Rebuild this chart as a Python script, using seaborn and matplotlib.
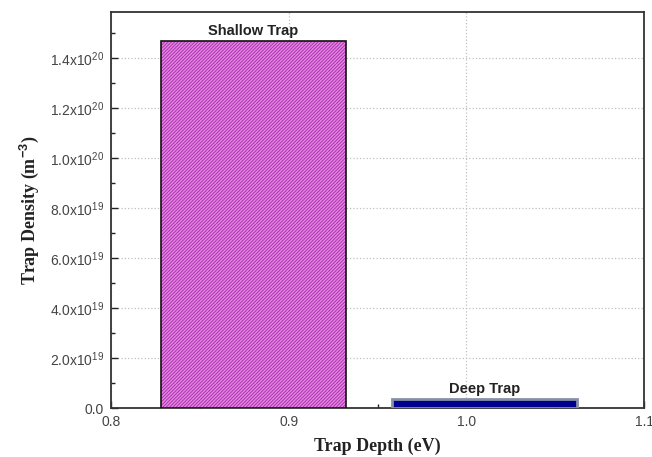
import matplotlib
matplotlib.use("Agg")
import matplotlib.pyplot as plt
import seaborn as sns
import pandas as pd
from matplotlib.patches import Rectangle
from matplotlib.ticker import MultipleLocator, FixedLocator

# Data
trap_names = ["Shallow Trap", "Deep Trap"]
trap_depth = [0.88, 1.01]          # eV (bar centres)
trap_density = [1.47e20, 3.5e18]   # m^-3
ytick_vals = [0.0, 2e19, 4e19, 6e19, 8e19, 1e20, 1.2e20, 1.4e20]
ytick_labels = ["0.0", r"2.0x10$^{19}$", r"4.0x10$^{19}$", r"6.0x10$^{19}$",
                r"8.0x10$^{19}$", r"1.0x10$^{20}$", r"1.2x10$^{20}$", r"1.4x10$^{20}$"]
xtick_vals = [0.8, 0.9, 1.0, 1.1]
xtick_labels = ["0.8", "0.9", "1.0", "1.1"]

sns.set_theme(style="white")
plt.rcParams["font.family"] = ["Liberation Sans", "DejaVu Sans"]
plt.rcParams["mathtext.fontset"] = "custom"
plt.rcParams["mathtext.rm"] = "Liberation Sans"
plt.rcParams["mathtext.it"] = "Liberation Sans:italic"
plt.rcParams["mathtext.bf"] = "Liberation Sans:bold"
plt.rcParams["hatch.linewidth"] = 0.6

df = pd.DataFrame({"name": trap_names, "depth": trap_depth, "density": trap_density})

fig = plt.figure(figsize=(6.52, 4.57), dpi=100)
ax = fig.add_axes([0.170, 0.107, 0.818, 0.867])

ax.grid(True, which="major", linestyle=":", color="#c0c0c0", linewidth=0.9)
ax.set_axisbelow(True)

sns.barplot(data=df, x="depth", y="density", native_scale=True, width=0.8,
            ax=ax, legend=False)

fills = ["#f27af2", "#000090"]
hatch_cols = ["#8a3a8a", "#8890a8"]
outline = ["#111111", "#8890a8"]
hatches = ["//////////", None]
for p, fc, hc, oc, h in zip(list(ax.patches), fills, hatch_cols, outline, hatches):
    p.set_facecolor(fc)
    p.set_zorder(3)
    if h:
        p.set_edgecolor(hc)
        p.set_hatch(h)
        p.set_linewidth(0)
        ax.add_patch(Rectangle(p.get_xy(), p.get_width(), p.get_height(),
                               fill=False, edgecolor=oc, linewidth=1.2, zorder=3.5))
    else:
        p.set_edgecolor(oc)
        p.set_linewidth(2.0)

for p, name in zip(ax.patches[:2], trap_names):
    cx = p.get_x() + p.get_width() / 2
    ax.text(cx, p.get_height() + 0.012e20, name, ha="center", va="bottom",
            fontsize=10.5, fontweight="bold", color="#222222", zorder=4)

ax.set_xlim(0.8, 1.1)
ax.set_ylim(0, 1.585e20)
ax.xaxis.set_major_locator(FixedLocator(xtick_vals))
ax.set_xticklabels(xtick_labels)
ax.xaxis.set_minor_locator(MultipleLocator(0.05))
ax.yaxis.set_major_locator(FixedLocator(ytick_vals))
ax.set_yticklabels(ytick_labels)
ax.yaxis.set_minor_locator(MultipleLocator(1e19))

ax.tick_params(axis="both", which="major", direction="in", length=5, width=1.0,
               labelsize=10, labelcolor="#444444", color="#222222", pad=5,
               bottom=True, left=True)
ax.tick_params(axis="both", which="minor", direction="in", length=3, width=1.0,
               color="#222222", bottom=True, left=True)

for s in ax.spines.values():
    s.set_color("#333333")
    s.set_linewidth(1.3)

ax.set_xlabel("Trap Depth (eV)", fontsize=13, fontweight="bold",
              family=["Liberation Serif", "DejaVu Serif"], color="#222222", labelpad=6)
ax.set_ylabel(r"Trap Density (m$^{\mathbf{-3}}$)", fontsize=13, fontweight="bold",
              family=["Liberation Serif", "DejaVu Serif"], color="#222222", labelpad=6)

fig.savefig("out.png", dpi=100)
